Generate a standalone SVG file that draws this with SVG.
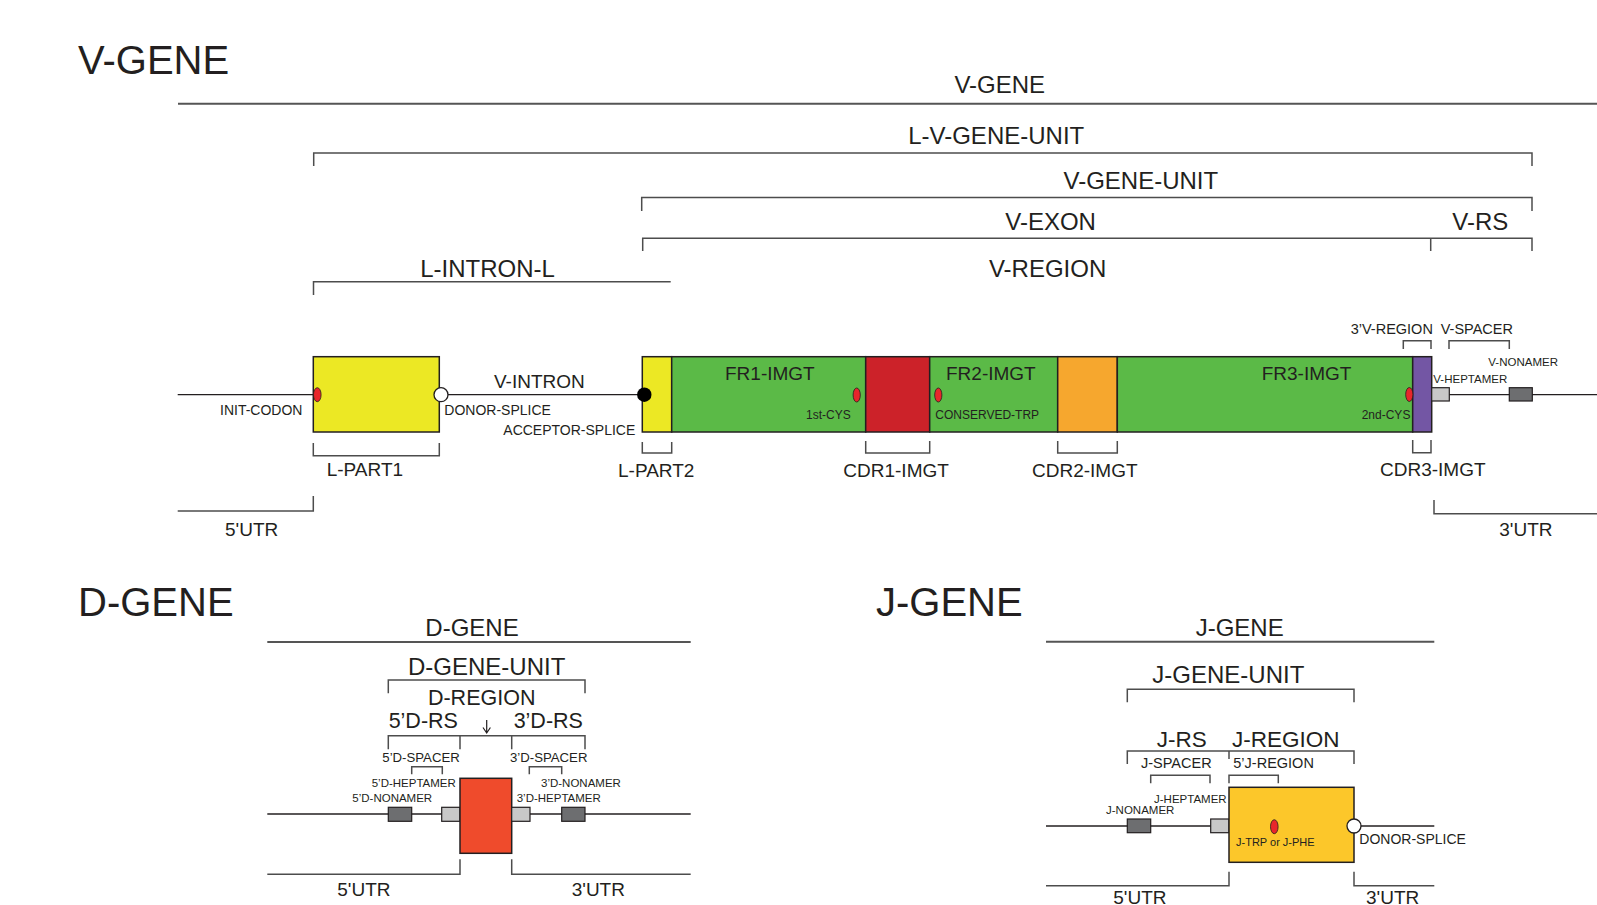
<svg xmlns="http://www.w3.org/2000/svg" width="1597" height="905" viewBox="0 0 1597 905">
<style>
text{font-family:"Liberation Sans",Arial,sans-serif;fill:#231f20}
.t40{font-size:40px}
.t24{font-size:24px;text-anchor:middle}
.t22{font-size:21.5px;text-anchor:middle}
.t19{font-size:19px}
.t14{font-size:14px}
.t12{font-size:12px}
.t11{font-size:11.5px}
.br{fill:none;stroke:#4d4d4d;stroke-width:1.5}
.bl{fill:none;stroke:#555;stroke-width:2}
.ln{fill:none;stroke:#231f20;stroke-width:1.3}
.bx{stroke:#231f20;stroke-width:1.5}
.dot{fill:#e8262b;stroke:#231f20;stroke-width:0.8}
.wc{fill:#fff;stroke:#231f20;stroke-width:1.3}
.lg{fill:#c8c8c8;stroke:#231f20;stroke-width:1.2}
.dg{fill:#6d6e70;stroke:#231f20;stroke-width:1.2}
</style>

<!-- Titles -->
<g id="titles">
<text class="t40" x="78" y="74">V-GENE</text>
<text class="t40" x="78" y="615.5">D-GENE</text>
<text class="t40" x="876" y="615.5">J-GENE</text>
</g>

<!-- ===== V-GENE ===== -->
<g id="v-connectors">
<path class="ln" d="M177.7 394.7H1597"/>
<path class="bl" d="M178 103.7H1597"/>
<path class="br" d="M313.7 166V153H1532V166"/>
<path class="br" d="M641.7 211V197.5H1532V211"/>
<path class="br" d="M642.7 251V238.3H1532V251M1430.7 238.3V251"/>
<path class="br" d="M313.5 295V281.7H670.7"/>
<path class="br" d="M313.3 443V455.7H439.3V443"/>
<path class="br" d="M642.3 442V453H671.7V442"/>
<path class="br" d="M865.7 441V453H929.7V441"/>
<path class="br" d="M1057.7 441V453H1117.3V441"/>
<path class="br" d="M1412.7 440V452.7H1431V440"/>
<path class="br" d="M1403.3 349V340.7H1431V349"/>
<path class="br" d="M1449 349V340.7H1509.3V349"/>
<path class="br" d="M177.7 511H313.3V496"/>
<path class="br" d="M1434 500V513.7H1597"/>
</g>

<g id="v-labels">
<text class="t24" x="999.8" y="93.3">V-GENE</text>
<text class="t24" x="996.2" y="144">L-V-GENE-UNIT</text>
<text class="t24" x="1140.8" y="188.5">V-GENE-UNIT</text>
<text class="t24" x="1050.6" y="230">V-EXON</text>
<text class="t24" x="1480.3" y="230">V-RS</text>
<text class="t24" x="487.5" y="276.7">L-INTRON-L</text>
<text class="t24" x="1047.6" y="276.7">V-REGION</text>
</g>

<g id="l-part1">
<rect class="bx" x="313.3" y="356.7" width="126" height="75.3" fill="#ece824"/>
<ellipse class="dot" cx="317.3" cy="394.7" rx="3.8" ry="7"/>
<circle class="wc" cx="441" cy="394.7" r="7"/>
<text class="t14" x="220" y="415">INIT-CODON</text>
<text class="t14" x="444.3" y="415">DONOR-SPLICE</text>
<text class="t19" x="326.7" y="475.7">L-PART1</text>
<text class="t19" x="225" y="536">5'UTR</text>
</g>

<g id="v-intron">
<text class="t19" x="494" y="388">V-INTRON</text>
<text class="t14" x="503.3" y="435.3">ACCEPTOR-SPLICE</text>
</g>

<g id="v-exon">
<rect class="bx" x="642.3" y="356.7" width="29.4" height="75.3" fill="#ece824"/>
<rect class="bx" x="671.7" y="356.7" width="194" height="75.3" fill="#5bba47"/>
<rect class="bx" x="865.7" y="356.7" width="64" height="75.3" fill="#cc2229"/>
<rect class="bx" x="929.7" y="356.7" width="128" height="75.3" fill="#5bba47"/>
<rect class="bx" x="1057.7" y="356.7" width="59.6" height="75.3" fill="#f6a72e"/>
<rect class="bx" x="1117.3" y="356.7" width="295.4" height="75.3" fill="#5bba47"/>
<rect class="bx" x="1412.7" y="356.7" width="19" height="75.3" fill="#7356a4"/>
<circle cx="644.3" cy="394.7" r="7.2" fill="#000"/>
<ellipse class="dot" cx="856.7" cy="395" rx="3.6" ry="7"/>
<ellipse class="dot" cx="938.3" cy="395" rx="3.6" ry="7"/>
<ellipse class="dot" cx="1409.3" cy="394.5" rx="3.6" ry="7"/>
<text class="t19" x="725" y="380">FR1-IMGT</text>
<text class="t19" x="946" y="380">FR2-IMGT</text>
<text class="t19" x="1261.7" y="380">FR3-IMGT</text>
<text class="t12" x="806" y="418.7">1st-CYS</text>
<text class="t12" x="935.3" y="418.7">CONSERVED-TRP</text>
<text class="t12" x="1361.7" y="419">2nd-CYS</text>
<text class="t19" x="618" y="476.5">L-PART2</text>
<text class="t19" x="843.3" y="476.5">CDR1-IMGT</text>
<text class="t19" x="1032" y="476.5">CDR2-IMGT</text>
<text class="t19" x="1380" y="475.7">CDR3-IMGT</text>
</g>

<g id="v-rs">
<rect class="lg" x="1431.7" y="387.7" width="17.6" height="13.3"/>
<rect class="dg" x="1509.3" y="387.7" width="23" height="13.3"/>
<text class="t14" x="1350.7" y="334" style="font-size:14.5px">3’V-REGION</text>
<text class="t14" x="1440.7" y="334" style="font-size:14.5px">V-SPACER</text>
<text class="t11" x="1488.3" y="365.7">V-NONAMER</text>
<text class="t11" x="1433.3" y="382.7">V-HEPTAMER</text>
<text class="t19" x="1499.3" y="535.7">3'UTR</text>
</g>

<!-- ===== D-GENE ===== -->
<g id="d-connectors">
<path class="ln" d="M267.3 814H690.7"/>
<path class="bl" d="M267.3 642H690.7"/>
<path class="br" d="M388.3 693.3V680H585V693.3"/>
<path class="br" d="M388.3 749.3V735.7H585V749.3M460 735.7V749.3M511.7 735.7V749.3"/>
<path class="br" d="M411.7 774.3V766.7H442.3V774.3"/>
<path class="br" d="M529.3 774.3V766.7H561.7V774.3"/>
<path class="br" d="M267.3 874.3H460V859.3"/>
<path class="br" d="M511.7 859.3V874.3H690.7"/>
<path d="M486.7 720V732M483 727.5L486.7 733L490.4 727.5" fill="none" stroke="#231f20" stroke-width="1.2"/>
</g>
<g id="d-labels">
<text class="t24" x="472" y="636">D-GENE</text>
<text class="t24" x="486.7" y="675">D-GENE-UNIT</text>
<text class="t22" x="481.7" y="705">D-REGION</text>
<text class="t22" x="423.3" y="728.3">5’D-RS</text>
<text class="t22" x="548.3" y="728.3">3’D-RS</text>
<text style="font-size:13.2px" x="382.3" y="761.7">5’D-SPACER</text>
<text style="font-size:13.2px" x="510" y="761.7">3’D-SPACER</text>
<text class="t11" x="371.7" y="786.7">5’D-HEPTAMER</text>
<text class="t11" x="541" y="786.7">3’D-NONAMER</text>
<text class="t11" x="352.3" y="802.3">5’D-NONAMER</text>
<text class="t11" x="516.7" y="802.3">3’D-HEPTAMER</text>
<text class="t19" x="337.3" y="896">5'UTR</text>
<text class="t19" x="571.7" y="896">3'UTR</text>
</g>
<g id="d-region">
<rect class="dg" x="388.3" y="807.3" width="23.4" height="14"/>
<rect class="lg" x="441.7" y="807.3" width="18.3" height="14"/>
<rect class="bx" x="460" y="778.3" width="51.7" height="75" fill="#ef4b2c"/>
<rect class="lg" x="511.7" y="807.3" width="18.3" height="14"/>
<rect class="dg" x="561.7" y="807.3" width="23.3" height="14"/>
</g>

<!-- ===== J-GENE ===== -->
<g id="j-connectors">
<path class="ln" d="M1046 826H1434.3"/>
<path class="bl" d="M1046 641.7H1434.3"/>
<path class="br" d="M1127.3 702.3V689.3H1354V702.3"/>
<path class="br" d="M1127.3 764V751H1354V764M1229 751V759"/>
<path class="br" d="M1150.7 783.3V775.3H1210V783.3"/>
<path class="br" d="M1229 783.3V775.3H1278.3V783.3"/>
<path class="br" d="M1046 885.7H1229V871.7"/>
<path class="br" d="M1354 871.7V885.7H1434.3"/>
</g>
<g id="j-labels">
<text class="t24" x="1239.7" y="636">J-GENE</text>
<text class="t24" x="1228.3" y="683.3">J-GENE-UNIT</text>
<text class="t24" x="1181.7" y="746.7" style="font-size:22.5px">J-RS</text>
<text class="t24" x="1285.8" y="746.7" style="font-size:22.5px">J-REGION</text>
<text style="font-size:14.5px" x="1141" y="768.3">J-SPACER</text>
<text style="font-size:14.5px" x="1233.3" y="768.3">5’J-REGION</text>
<text class="t11" x="1154" y="802.7">J-HEPTAMER</text>
<text class="t11" x="1106" y="814">J-NONAMER</text>
<text class="t14" x="1359.3" y="844.3">DONOR-SPLICE</text>
<text class="t19" x="1113.3" y="904">5'UTR</text>
<text class="t19" x="1366" y="904">3'UTR</text>
</g>
<g id="j-region">
<rect class="dg" x="1127.3" y="819" width="23.4" height="13.7"/>
<rect class="lg" x="1210.7" y="819" width="18.3" height="13.7"/>
<rect class="bx" x="1229" y="787.3" width="125" height="75" fill="#fcc72a"/>
<ellipse class="dot" cx="1274.3" cy="826.7" rx="3.8" ry="7"/>
<circle class="wc" cx="1354" cy="826" r="7"/>
<text style="font-size:11px" x="1236" y="845.7">J-TRP or J-PHE</text>
</g>
</svg>
